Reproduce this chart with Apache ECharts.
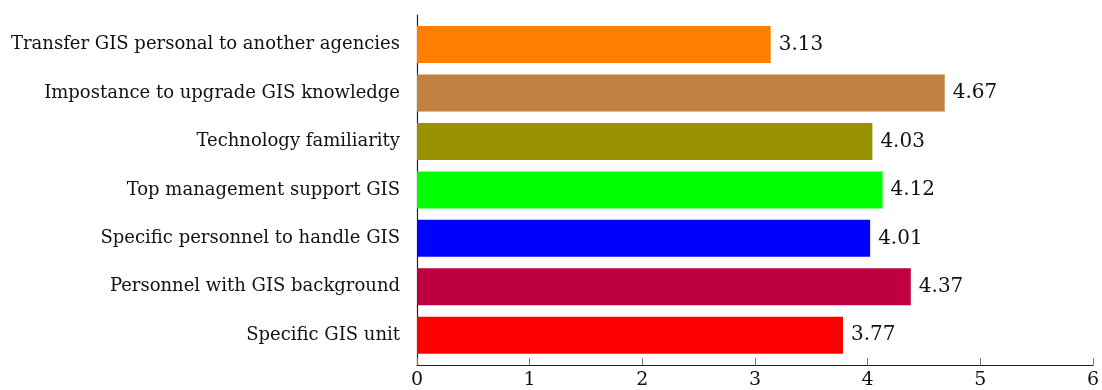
<!DOCTYPE html>
<html><head><meta charset="utf-8">
<script src="https://cdn.jsdelivr.net/npm/echarts@6/dist/echarts.min.js"></script>
<style>html,body{margin:0;padding:0;background:#fff}#c{width:1102px;height:390px}</style>
</head><body><div id="c"></div>
<script>
const categories = ["Transfer GIS personal to another agencies","Impostance to upgrade GIS knowledge","Technology familiarity","Top management support GIS","Specific personnel to handle GIS","Personnel with GIS background","Specific GIS unit"];
const values = [3.13, 4.67, 4.03, 4.12, 4.01, 4.37, 3.77];
const colors = ["#FF8000","#BF8040","#999100","#00FF00","#0000FF","#BF0040","#FF0000"];
const xTicks = [0,1,2,3,4,5,6];

const chart = echarts.init(document.getElementById('c'), null, {renderer:'canvas'});
const serif = "'DejaVu Serif', serif";
chart.setOption({
  animation:false,
  grid:[
    {left:417, right:7, top:20.3, bottom:30.5},
    {left:417, right:7, top:15, bottom:25}
  ],
  xAxis:[
    {gridIndex:0, type:'value', min:xTicks[0], max:xTicks[xTicks.length-1], interval:1, show:false},
    {gridIndex:1, type:'value', min:xTicks[0], max:xTicks[xTicks.length-1], interval:1,
     axisLine:{show:true, lineStyle:{color:'#222', width:1.2}},
     axisTick:{show:true, inside:true, length:7, lineStyle:{color:'#777', width:1}},
     axisLabel:{show:true, color:'#111', fontFamily:serif, fontSize:19, margin:6},
     splitLine:{show:false}}
  ],
  yAxis:[
    {gridIndex:0, type:'category', data:categories, inverse:true,
     axisLine:{show:false}, axisTick:{show:false},
     axisLabel:{color:'#111', fontFamily:serif, fontSize:18, margin:17}},
    {gridIndex:1, type:'value', min:0, max:1,
     axisLine:{show:true, lineStyle:{color:'#222', width:1.2}},
     axisTick:{show:false}, axisLabel:{show:false}, splitLine:{show:false}}
  ],
  series:[{
    type:'bar', xAxisIndex:0, yAxisIndex:0, barWidth:37,
    data: values.map((v,i)=>({value:v, itemStyle:{color:colors[i]}})),
    label:{show:true, position:'right', distance:8, color:'#111', fontFamily:serif, fontSize:20,
      formatter:p=>p.value.toFixed(2)}
  }]
});
</script></body></html>
